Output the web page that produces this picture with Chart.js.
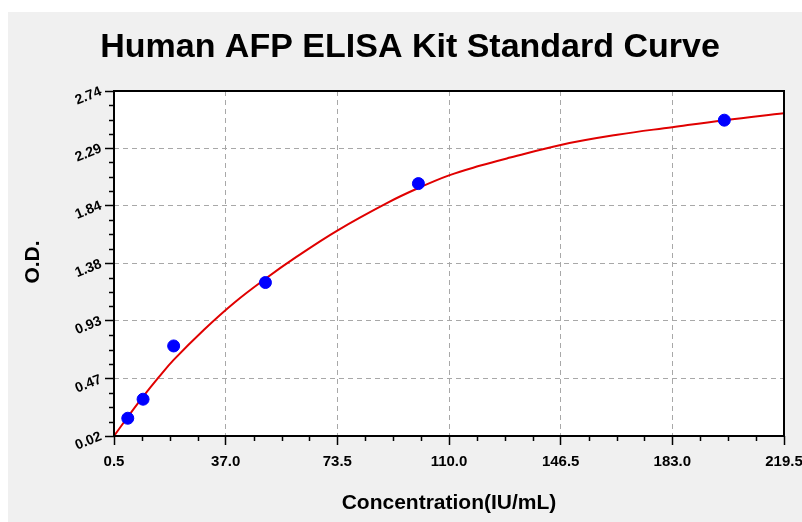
<!DOCTYPE html>
<html>
<head>
<meta charset="utf-8">
<script src="https://cdn.jsdelivr.net/npm/chart.js@4.4.1/dist/chart.umd.min.js"></script>
<style>
  html, body { margin: 0; padding: 0; background: #ffffff; }
  #wrap { width: 802px; height: 522px; }
</style>
</head>
<body>
<div id="wrap"><canvas id="c" width="802" height="522"></canvas></div>
<script>
// ---- Data ----
const chartTitle = 'Human AFP ELISA Kit Standard Curve';
const xAxisTitle = 'Concentration(IU/mL)';
const yAxisTitle = 'O.D.';

const stdConc = [5, 10, 20, 50, 100, 200];
const stdOD   = [0.16, 0.31, 0.73, 1.23, 2.01, 2.51];

const curveConc = [0.5, 5, 10, 15, 20, 30, 40, 50, 60, 73.5, 90, 100, 110, 120, 130, 146.5, 165, 183, 200, 219.5];
const curveOD   = [0.02, 0.17, 0.33, 0.48, 0.62, 0.86, 1.075, 1.26, 1.43, 1.64, 1.86, 1.975, 2.075, 2.15, 2.215, 2.315, 2.395, 2.455, 2.51, 2.565];

const xTicks = [0.5, 37.0, 73.5, 110.0, 146.5, 183.0, 219.5];
const xTickLabels = ['0.5', '37.0', '73.5', '110.0', '146.5', '183.0', '219.5'];
const yTicks = [0.02, 0.47, 0.93, 1.38, 1.84, 2.29, 2.74];
const yTickLabels = ['0.02', '0.47', '0.93', '1.38', '1.84', '2.29', '2.74'];

const FONT = '"Liberation Sans", Arial, sans-serif';

const decor = {
  id: 'decor',
  beforeDraw(chart) {
    const ctx = chart.ctx, a = chart.chartArea;
    ctx.save();
    ctx.fillStyle = '#ffffff';
    ctx.fillRect(0, 0, chart.width, chart.height);
    ctx.fillStyle = '#f0f0f0';
    ctx.fillRect(8, 12, chart.width - 8, chart.height - 12);
    ctx.fillStyle = '#ffffff';
    ctx.fillRect(a.left, a.top, a.right - a.left, a.bottom - a.top);
    ctx.restore();
  },
  afterDraw(chart) {
    const ctx = chart.ctx, a = chart.chartArea;
    const xs = chart.scales.x, ys = chart.scales.y;
    ctx.save();
    // minor ticks
    ctx.strokeStyle = '#000000';
    ctx.lineWidth = 1.5;
    ctx.beginPath();
    for (let i = 0; i < xTicks.length - 1; i++) {
      const st = (xTicks[i + 1] - xTicks[i]) / 4;
      for (let k = 1; k < 4; k++) {
        const px = Math.round(xs.getPixelForValue(xTicks[i] + k * st)) + 0.5;
        ctx.moveTo(px, a.bottom); ctx.lineTo(px, a.bottom + 5);
      }
    }
    for (let i = 0; i < yTicks.length - 1; i++) {
      const st = (yTicks[i + 1] - yTicks[i]) / 4;
      for (let k = 1; k < 4; k++) {
        const py = Math.round(ys.getPixelForValue(yTicks[i] + k * st)) + 0.5;
        ctx.moveTo(a.left, py); ctx.lineTo(a.left - 5, py);
      }
    }
    ctx.stroke();
    // frame
    ctx.lineWidth = 2;
    ctx.strokeStyle = '#000000';
    ctx.strokeRect(a.left, a.top, a.right - a.left, a.bottom - a.top);
    // titles
    ctx.fillStyle = '#000000';
    ctx.textAlign = 'center';
    ctx.textBaseline = 'middle';
    ctx.font = 'bold 34px ' + FONT;
    ctx.fillText(chartTitle, 410, 48);
    ctx.font = 'bold 21px ' + FONT;
    ctx.fillText(xAxisTitle, (a.left + a.right) / 2, 503);
    ctx.translate(33, 262);
    ctx.rotate(-Math.PI / 2);
    ctx.fillText(yAxisTitle, 0, 0);
    ctx.restore();
  }
};

new Chart(document.getElementById('c'), {
  type: 'scatter',
  data: {
    datasets: [
      {
        label: 'Fit',
        data: curveConc.map((x, i) => ({ x: x, y: curveOD[i] })),
        showLine: true,
        borderColor: '#e00000',
        borderWidth: 2,
        pointRadius: 0,
        tension: 0.4,
        order: 2
      },
      {
        label: 'Standards',
        data: stdConc.map((x, i) => ({ x: x, y: stdOD[i] })),
        backgroundColor: '#0000ff',
        borderColor: '#0000ff',
        pointRadius: 6,
        pointHoverRadius: 6,
        order: 1
      }
    ]
  },
  options: {
    responsive: false,
    animation: false,
    devicePixelRatio: 1,
    layout: { padding: { top: 91, right: 18, bottom: 0, left: 0 } },
    plugins: { legend: { display: false }, tooltip: { enabled: false }, title: { display: false } },
    scales: {
      x: {
        type: 'linear',
        min: 0.5, max: 219.5,
        afterBuildTicks(s) { s.ticks = xTicks.map(v => ({ value: v })); },
        afterFit(s) { s.height = 86; s.paddingLeft = 0; s.paddingRight = 0; },
        border: { display: false, dash: [5, 4] },
        grid: { color: '#a8a8a8', lineWidth: 1, tickColor: '#000000', tickLength: 9, tickWidth: 1.5 },
        ticks: {
          color: '#000000',
          padding: 8,
          maxRotation: 0, minRotation: 0,
          font: { family: FONT, size: 15, weight: 'bold' },
          callback(v, i) { return xTickLabels[i]; }
        }
      },
      y: {
        type: 'linear',
        min: 0.02, max: 2.74,
        afterBuildTicks(s) { s.ticks = yTicks.map(v => ({ value: v })); },
        afterFit(s) { s.width = 114; s.paddingTop = 0; s.paddingBottom = 0; },
        border: { display: false, dash: [5, 4] },
        grid: { color: '#a8a8a8', lineWidth: 1, tickColor: '#000000', tickLength: 9, tickWidth: 1.5 },
        ticks: {
          color: '#000000',
          padding: 4,
          minRotation: 22, maxRotation: 22,
          font: { family: FONT, size: 14, weight: 'bold' },
          callback(v, i) { return yTickLabels[i]; }
        }
      }
    }
  },
  plugins: [decor]
});
</script>
</body>
</html>
